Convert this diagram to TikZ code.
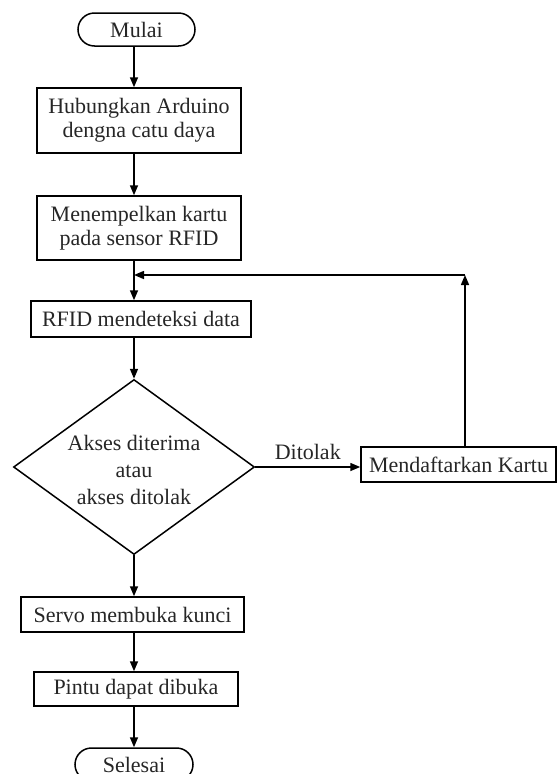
\documentclass[tikz,border=0pt]{standalone}
\usepackage{fontspec}
\setmainfont{Liberation Serif}
\usetikzlibrary{shapes.misc,shapes.geometric,arrows.meta}
\begin{document}
\begin{tikzpicture}[x=1pt,y=-1pt,
  every node/.style={font=\fontsize{22}{24}\selectfont, text=black!85},
  box/.style={draw, line width=1.5pt, inner sep=0pt, align=center},
  term/.style={draw, line width=1.5pt, rounded rectangle, inner sep=0pt},
  arr/.style={line width=1.5pt, -{Triangle[length=10pt,width=8pt]}},
  ln/.style={line width=1.5pt}]
\useasboundingbox (0,0) rectangle (558,774);
\clip (0,0) rectangle (558,774);
\coordinate (main) at (134,0);
\node[term, minimum width=117pt, minimum height=33pt] (mulai) at (136.5,29.5) {Mulai};
\node[box, minimum width=204pt, minimum height=65pt] (b1) at (139,120.5) {Hubungkan Arduino\\dengna catu daya};
\node[box, minimum width=204pt, minimum height=64pt] (b2) at (139,228) {Menempelkan kartu\\pada sensor RFID};
\node[box, minimum width=220pt, minimum height=36pt] (rfid) at (141,319) {RFID mendeteksi data};
\node[draw, line width=1.5pt, diamond, minimum width=241pt, minimum height=175pt, inner sep=0pt] (dec) at (134,467) {};
\node[align=center, font=\fontsize{22}{27}\selectfont] (dectext) at (134,470) {Akses diterima\\atau\\akses ditolak};
\node[box, minimum width=195pt, minimum height=35pt] (mend) at (458.5,464.5) {Mendaftarkan Kartu};
\node[box, minimum width=223pt, minimum height=35pt] (servo) at (132.5,614.5) {Servo membuka kunci};
\node[box, minimum width=204pt, minimum height=34pt] (pintu) at (136,689) {Pintu dapat dibuka};
\node[term, minimum width=118pt, minimum height=33pt] (selesai) at (134,764.5) {Selesai};
\coordinate (fb) at (465,275);
\coordinate (join) at (134,275);
\coordinate (mup) at (465,447);
\draw[arr] (mulai.south -| main) -- (b1.north -| main);
\draw[arr] (b1.south -| main) -- (b2.north -| main);
\draw[arr] (b2.south -| main) -- (rfid.north -| main);
\draw[arr] (rfid.south -| main) -- (dec.north);
\draw[arr] (dec.south) -- (servo.north -| main);
\draw[arr] (servo.south -| main) -- (pintu.north -| main);
\draw[arr] (pintu.south -| main) -- (selesai.north -| main);
\draw[arr] (dec.east) -- (dec.east -| mend.west) node[midway, above=3pt] (ditolak) {Ditolak};
\draw[arr] (mup) -- (fb);
\draw[arr] (fb) -- (join);
\end{tikzpicture}
\end{document}
